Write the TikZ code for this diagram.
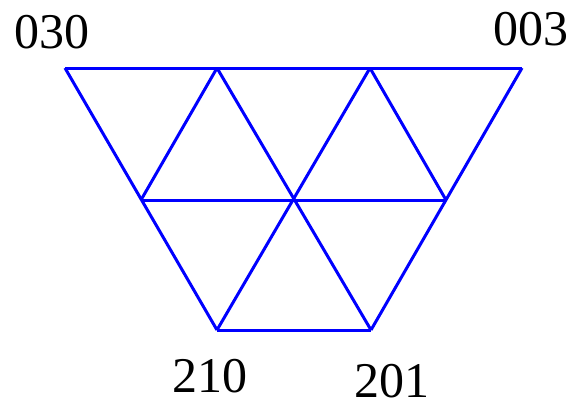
\documentclass[tikz,border=0pt]{standalone}
\usepackage{fontspec}
\setmainfont{Liberation Serif}
\begin{document}
\begin{tikzpicture}[x=1pt, y=-1pt, line width=3pt]
        \colorlet{myblue}{blue}
        \tikzset{edge/.style={draw=myblue, line join=miter}, lab/.style={font=\fontsize{50}{50}\selectfont, inner sep=0pt}}
        \useasboundingbox (0,0) rectangle (570,400);

        \coordinate (t1) at (65,68);
        \coordinate (t2) at (217,68);
        \coordinate (t3) at (370,68);
        \coordinate (t4) at (522,68);
        \coordinate (m1) at (141,200);
        \coordinate (m2) at (294,200);
        \coordinate (m3) at (446,200);
        \coordinate (b1) at (217,330);
        \coordinate (b2) at (371,330);

        \draw[edge] (t1) -- (t4);
        \draw[edge] (m1) -- (m3);
        \draw[edge] (b1) -- (b2);
        \draw[edge] (t1) -- (b1);
        \draw[edge] (t2) -- (m1);
        \draw[edge] (t2) -- (b2);
        \draw[edge] (t3) -- (b1);
        \draw[edge] (t3) -- (m3);
        \draw[edge] (t4) -- (b2);

        \node[lab] (l030) at (52,32) {030};
        \node[lab] (l003) at (531,29) {003};
        \node[lab] (l210) at (210,376) {210};
        \node[lab] (l201) at (392,381) {201};
    \end{tikzpicture}
\end{document}
